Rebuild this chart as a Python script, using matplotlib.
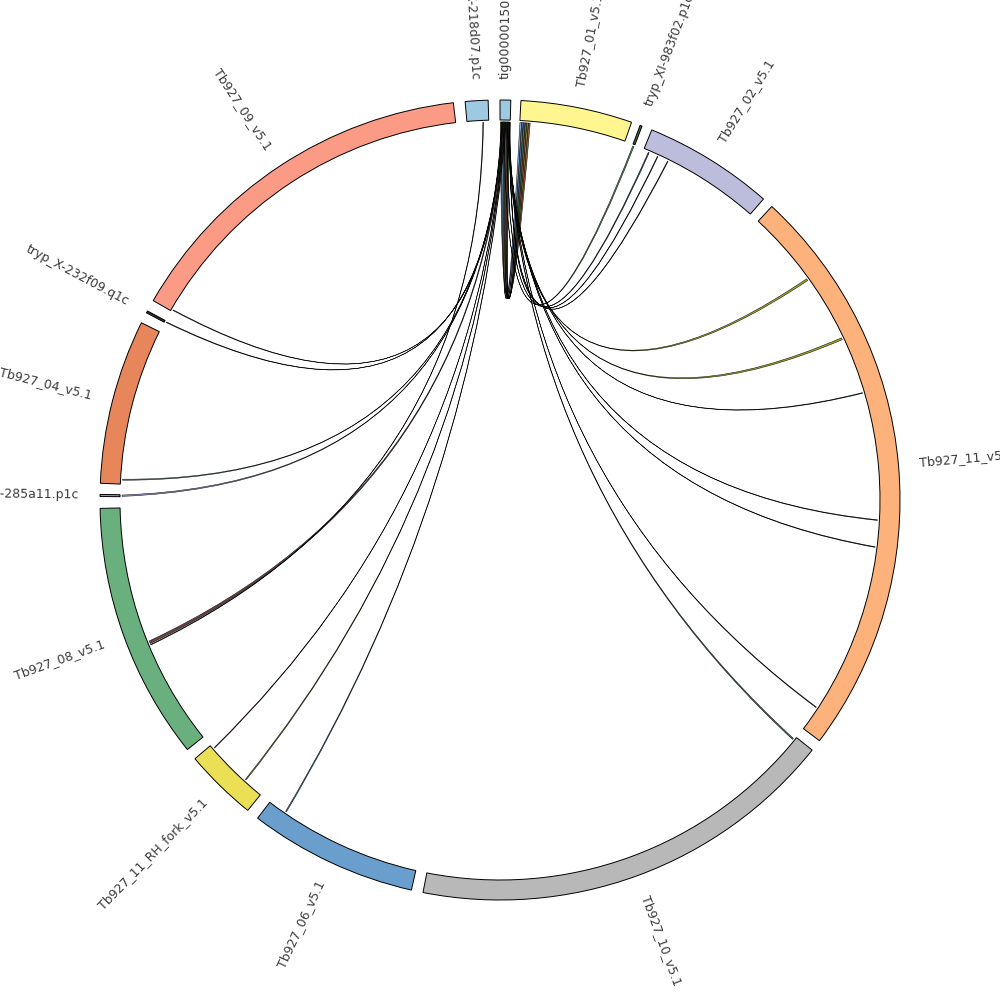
import numpy as np
import matplotlib
matplotlib.use("Agg")
import matplotlib.pyplot as plt
from matplotlib.patches import Wedge, PathPatch
from matplotlib.path import Path

# ---- segments (compass degrees, clockwise from top) ----
seg_names = ["tig00000150", "Tb927_01_v5.1", "tryp_XI-983f02.p1c", "Tb927_02_v5.1",
             "Tb927_11_v5.1", "Tb927_10_v5.1", "Tb927_06_v5.1", "Tb927_11_RH_fork_v5.1",
             "Tb927_08_v5.1", "tryp_XI-285a11.p1c", "Tb927_04_v5.1", "tryp_X-232f09.q1c",
             "Tb927_09_v5.1", "tryp_X-218d07.p1c"]
seg_start = [0.0, 3.0, 20.5, 22.3, 42.8, 128.7, 192.8, 219.1, 231.4, 270.5, 272.4, 297.9, 299.9, 355.0]
seg_end = [1.55, 19.2, 20.8, 41.2, 127.0, 191.1, 217.3, 229.7, 268.8, 270.8, 296.3, 298.2, 353.3, 358.3]
seg_colors = ["#9ecae1", "#fff68f", "#3a6a3a", "#bcbddc", "#fdb27b", "#b8b8b8", "#6a9ecc",
              "#ebe055", "#6ab07f", "#8f8fc0", "#e6865a", "#333333", "#fb9a85", "#9ecae1"]

# ---- links (compass degrees) ----
link_src_a = [0.05, 0.30, 0.55, 0.80, 1.05, 1.30,
              0.20, 0.30, 0.40, 0.46, 0.55, 0.72, 0.80, 0.90, 1.00, 1.10, 1.15, 1.20,
              1.25, 1.30, 1.38, 1.46, 1.50, 1.04, 0.60, 357.40]
link_src_b = [0.30, 0.55, 0.80, 1.05, 1.30, 1.52,
              0.26, 0.36, 0.46, 0.52, 0.70, 0.78, 0.88, 0.98, 1.08, 1.14, 1.19, 1.24,
              1.29, 1.38, 1.46, 1.50, 1.53, 1.10, 0.68, 357.50]
link_dst_a = [4.30, 3.02, 4.05, 3.28, 3.80, 3.55,
              298.00, 300.10, 273.00, 270.55, 247.70, 229.00, 222.20, 214.40, 129.10, 123.20, 97.10, 93.00,
              73.50, 64.60, 54.20, 26.30, 24.60, 23.10, 20.55, 247.45]
link_dst_b = [4.58, 3.28, 4.30, 3.55, 4.05, 3.80,
              298.10, 300.20, 273.15, 270.75, 248.10, 229.10, 222.35, 214.55, 129.30, 123.30, 97.20, 93.10,
              73.60, 64.90, 54.50, 26.40, 24.70, 23.25, 20.75, 247.55]
link_colors = ["#8c4a20", "#6fa8d0", "#80802a", "#5a5a9a", "#8b4a36", "#2f6a45",
               "#333333", "#666688", "#6aa080", "#9a98c8", "#5a3030", "#a04030", "#8a8a30", "#4a7fa0",
               "#3d6b4f", "#333333", "#222222", "#333333", "#333333", "#9a9a1a", "#9a9a1a",
               "#222222", "#222222", "#2a4a6a", "#4a8a4a", "#333333"]

R_OUT, R_IN, R_LINK, R_LABEL, R_CTRL = 400, 380, 378, 421, 25


def pt(r, deg):
    a = np.radians(deg)
    return (r * np.sin(a), r * np.cos(a))


def bisector(a, b):
    d = (b - a + 180) % 360 - 180
    return a + d / 2


fig = plt.figure(figsize=(10, 10), dpi=100)
ax = fig.add_axes([0, 0, 1, 1])
ax.set_xlim(-500, 500)
ax.set_ylim(-500, 500)
ax.set_aspect("equal")
ax.axis("off")

# links
for sa, sb, da, db, c in zip(link_src_a, link_src_b, link_dst_a, link_dst_b, link_colors):
    c1 = pt(R_CTRL, bisector(sb, da))
    c2 = pt(R_CTRL, bisector(db, sa))
    verts = [pt(R_LINK, sa), pt(R_LINK, sb), c1, pt(R_LINK, da),
             pt(R_LINK, db), c2, pt(R_LINK, sa), pt(R_LINK, sa)]
    codes = [Path.MOVETO, Path.LINETO, Path.CURVE3, Path.CURVE3,
             Path.LINETO, Path.CURVE3, Path.CURVE3, Path.CLOSEPOLY]
    ax.add_patch(PathPatch(Path(verts, codes), facecolor=c, edgecolor="black",
                           lw=0.4, alpha=0.9, zorder=2))

# segments
for name, s, e, c in zip(seg_names, seg_start, seg_end, seg_colors):
    ax.add_patch(Wedge((0, 0), R_OUT, 90 - e, 90 - s, width=R_OUT - R_IN,
                       facecolor=c, edgecolor="black", lw=0.7, zorder=3))
    mid = (s + e) / 2
    x, y = pt(R_LABEL, mid)
    if mid < 180:
        rot, ha = 90 - mid, "left"
    else:
        rot, ha = 270 - mid, "right"
    ax.text(x, y, name, rotation=rot, rotation_mode="anchor", ha=ha, va="center",
            fontsize=9, color="#3a3a3a", family="DejaVu Sans")

fig.savefig("out.png", dpi=100)
